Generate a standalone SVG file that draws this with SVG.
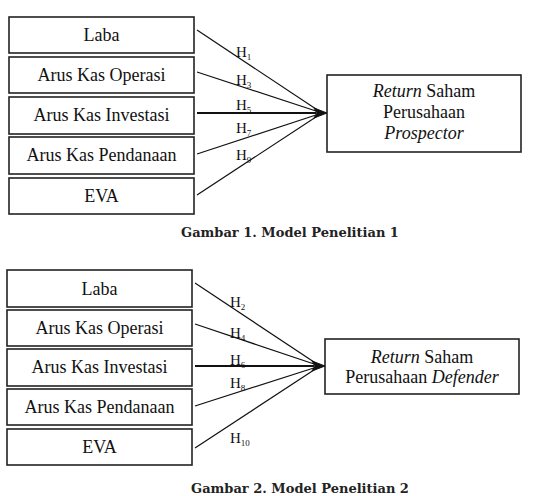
<svg xmlns="http://www.w3.org/2000/svg" width="533" height="496" viewBox="0 0 533 496">
<style>
.box{fill:#fff;stroke:#222;stroke-width:1.6}
.t{font-family:"Liberation Serif","Times New Roman",serif;font-size:18px;fill:#111;text-anchor:middle}
.h{font-family:"Liberation Serif","Times New Roman",serif;font-size:15px;fill:#111}
.cap{font-family:"DejaVu Serif","Liberation Serif",serif;font-weight:bold;font-size:13px;fill:#222;text-anchor:middle}
.ln{stroke:#111;stroke-width:1.2;fill:none}
.ln2{stroke:#111;stroke-width:2;fill:none}
.head{fill:#111;stroke:#111;stroke-width:1}
</style>
<rect width="533" height="496" fill="#fff"/>

<!-- Figure 1 -->
<g id="f1-laba"><rect class="box" x="9" y="17" width="185" height="36"/><text class="t" x="101.5" y="41">Laba</text></g>
<g id="f1-operasi"><rect class="box" x="9" y="57" width="185" height="36"/><text class="t" x="101.5" y="81">Arus Kas Operasi</text></g>
<g id="f1-investasi"><rect class="box" x="9" y="97" width="185" height="37"/><text class="t" x="101.5" y="121">Arus Kas Investasi</text></g>
<g id="f1-pendanaan"><rect class="box" x="9" y="137" width="185" height="37"/><text class="t" x="101.5" y="161">Arus Kas Pendanaan</text></g>
<g id="f1-eva"><rect class="box" x="9" y="178" width="185" height="36"/><text class="t" x="101.5" y="202">EVA</text></g>
<g id="f1-target"><rect class="box" x="327" y="75" width="194" height="77"/>
<text class="t" x="424" y="97"><tspan font-style="italic">Return</tspan> Saham</text>
<text class="t" x="424" y="118">Perusahaan</text>
<text class="t" x="424" y="139" font-style="italic">Prospector</text></g>
<g id="f1-connectors">
<line class="ln" x1="197" y1="30" x2="322" y2="113"/>
<line class="ln" x1="197" y1="72" x2="322" y2="113"/>
<line class="ln2" x1="197" y1="113" x2="316" y2="113"/>
<line class="ln" x1="197" y1="154" x2="322" y2="113"/>
<line class="ln" x1="197" y1="195" x2="322" y2="113"/>
<path class="head" d="M314,108 L327,113 L314,118 L317,113 Z"/>
<text class="h" x="236" y="57">H<tspan font-size="9" dy="3">1</tspan></text>
<text class="h" x="236" y="85">H<tspan font-size="9" dy="3">3</tspan></text>
<text class="h" x="236" y="110">H<tspan font-size="9" dy="3">5</tspan></text>
<text class="h" x="236" y="133">H<tspan font-size="9" dy="3">7</tspan></text>
<text class="h" x="236" y="160">H<tspan font-size="9" dy="3">9</tspan></text>
</g>
<text class="cap" x="290" y="237">Gambar 1. Model Penelitian 1</text>

<!-- Figure 2 -->
<g id="f2-laba"><rect class="box" x="7" y="270" width="185" height="37"/><text class="t" x="99.5" y="295">Laba</text></g>
<g id="f2-operasi"><rect class="box" x="7" y="310" width="185" height="36"/><text class="t" x="99.5" y="334">Arus Kas Operasi</text></g>
<g id="f2-investasi"><rect class="box" x="7" y="349" width="185" height="37"/><text class="t" x="99.5" y="373">Arus Kas Investasi</text></g>
<g id="f2-pendanaan"><rect class="box" x="7" y="389" width="185" height="36"/><text class="t" x="99.5" y="413">Arus Kas Pendanaan</text></g>
<g id="f2-eva"><rect class="box" x="7" y="429" width="185" height="36"/><text class="t" x="99.5" y="453">EVA</text></g>
<g id="f2-target"><rect class="box" x="325" y="339" width="194" height="55"/>
<text class="t" x="422" y="363"><tspan font-style="italic">Return</tspan> Saham</text>
<text class="t" x="422" y="383">Perusahaan <tspan font-style="italic">Defender</tspan></text></g>
<g id="f2-connectors">
<line class="ln" x1="195" y1="283" x2="320" y2="366"/>
<line class="ln" x1="195" y1="324" x2="320" y2="366"/>
<line class="ln2" x1="195" y1="366" x2="314" y2="366"/>
<line class="ln" x1="195" y1="406" x2="320" y2="366"/>
<line class="ln" x1="195" y1="448" x2="320" y2="366"/>
<path class="head" d="M312,361 L325,366 L312,371 L315,366 Z"/>
<text class="h" x="230" y="307">H<tspan font-size="9" dy="3">2</tspan></text>
<text class="h" x="230" y="338">H<tspan font-size="9" dy="3">4</tspan></text>
<text class="h" x="230" y="365">H<tspan font-size="9" dy="3">6</tspan></text>
<text class="h" x="230" y="388">H<tspan font-size="9" dy="3">8</tspan></text>
<text class="h" x="230" y="443">H<tspan font-size="9" dy="3">10</tspan></text>
</g>
<text class="cap" x="300" y="493">Gambar 2. Model Penelitian 2</text>
</svg>
